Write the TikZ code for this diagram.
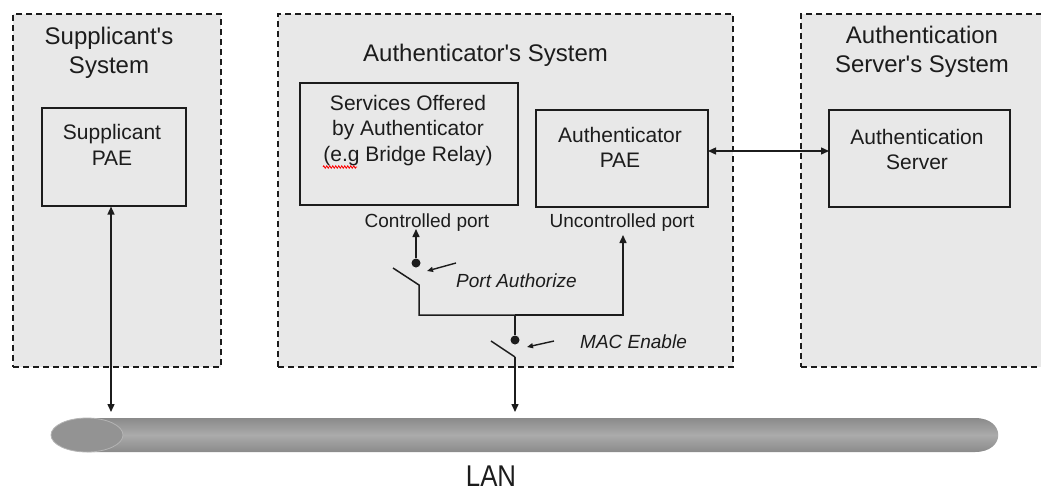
\documentclass[tikz,border=0pt]{standalone}
\usepackage{fontspec}
\newfontfamily\uifont{Liberation Sans}
\newfontfamily\lanfont{Liberation Sans}[FakeStretch=0.86]
\usetikzlibrary{arrows.meta,decorations.pathmorphing}

\definecolor{sysfill}{HTML}{E8E8E8}
\definecolor{ink}{HTML}{1C1C1C}
\definecolor{lanedge}{HTML}{8A8A8A}
\definecolor{lanmid}{HTML}{ABABAB}
\definecolor{lancap}{HTML}{939393}
\definecolor{lanrim}{HTML}{B4B4B4}

\begin{document}
\begin{tikzpicture}[x=1pt,y=-1pt,
  system/.style={draw=ink, fill=sysfill, line width=1.3pt,
    dash pattern=on 6pt off 4pt, inner sep=0pt},
  sysTitle/.style={font=\uifont\fontsize{24}{29}\selectfont, text=ink, align=center, inner sep=0pt},
  unitbox/.style={draw=ink, line width=1.1pt, fill=sysfill, inner sep=0pt},
  unittext/.style={font=\uifont\fontsize{21}{25.5}\selectfont, text=ink, align=center, inner sep=0pt},
  portlabel/.style={font=\uifont\fontsize{19}{22}\selectfont, text=ink, inner sep=0pt},
  ctrllabel/.style={font=\uifont\fontsize{19}{22}\selectfont\itshape, text=ink, inner sep=0pt},
  conn/.style={draw=ink, line width=1.5pt, -{Triangle[length=8pt,width=7pt]}},
  biconn/.style={draw=ink, line width=1.4pt, {Triangle[length=8pt,width=7pt]}-{Triangle[length=8pt,width=7pt]}},
  wire/.style={draw=ink, line width=1.5pt},
  pointer/.style={draw=ink, line width=1.4pt, -{Triangle[length=6pt,width=5pt]}},
  contact/.style={circle, fill=ink, inner sep=0pt, minimum size=9pt}
]
\useasboundingbox (0,0) rectangle (1041,493);
\clip (0,0) rectangle (1041,493);

% system enclosures
\node[system, minimum width=208pt, minimum height=353pt] (supsys) at (117,190.5) {};
\node[system, minimum width=455pt, minimum height=353pt] (authsys) at (505.5,190.5) {};
\node[system, minimum width=259pt, minimum height=353pt] (servsys) at (930.5,190.5) {};

\node[sysTitle] (supsysT) at (109,52.5) {Supplicant's\\System};
\node[sysTitle, anchor=west] (authsysT) at (363,55) {Authenticator's System};
\node[sysTitle] (servsysT) at (922,51.5) {Authentication\\Server's System};

% functional units
\node[unitbox, minimum width=144pt, minimum height=98pt] (spae) at (114,157) {};
\node[unittext] (spaeT) at (112,145) {Supplicant\\PAE};

\node[unitbox, minimum width=218pt, minimum height=122pt] (svc) at (409,144) {};
\node[unittext] (svcT) at (408,130.5) {Services Offered\\by Authenticator\\(e.g Bridge Relay)};
\draw[red, line width=0.8pt, decorate,
  decoration={zigzag, amplitude=1.2pt, segment length=3pt}] (323,167) -- (357,167);

\node[unitbox, minimum width=172pt, minimum height=97pt] (apae) at (622,158.5) {};
\node[unittext] (apaeT) at (620,147.5) {Authenticator\\PAE};

\node[unitbox, minimum width=181pt, minimum height=97pt] (aserv) at (919.5,158.5) {};
\node[unittext] (aservT) at (917,149.5) {Authentication\\Server};

% port labels
\node[portlabel] (cport) at (427,223) {Controlled port};
\node[portlabel] (uport) at (622,223) {Uncontrolled port};
\node[ctrllabel, anchor=west] (authz) at (456,281) {Port Authorize};
\node[ctrllabel, anchor=west] (macen) at (580,342) {MAC Enable};

% LAN cable
\shade[top color=lanedge, bottom color=lanedge, middle color=lanmid]
  (87,418) -- (975,418) .. controls (1006,418) and (1006,452) .. (975,452)
  -- (87,452) -- cycle;
\filldraw[fill=lancap, draw=lanrim, line width=0.8pt] (87,435) ellipse [x radius=36, y radius=17];
\node[font=\lanfont\fontsize{30}{34}\selectfont, text=ink, inner sep=0pt, anchor=base] (lan) at (491,486) {LAN};

\coordinate (lanS) at (111,412);
\coordinate (lanA) at (515,412);

% supplicant to LAN
\draw[biconn] (lanS) -- (lanS |- spae.south);

% authenticator PAE to authentication server
\coordinate (apaeE) at (708,151);
\coordinate (aservW) at (829,151);
\draw[biconn] (apaeE) -- (aservW);

% port authorize switch
\node[contact] (pa) at (416,263) {};
\coordinate (cportIn) at (416,229);
\draw[conn] (pa) -- (cportIn);
\coordinate (paBlade) at (393,268);
\coordinate (paHinge) at (419,285);
\coordinate (paJoin) at (419,315);
\coordinate (bus) at (515,315);
\coordinate (uportIn) at (623,235);
\draw[wire] (paBlade) -- (paHinge) -- (paJoin) -- (bus);
\draw[conn] (bus) -- (bus -| uportIn) -- (uportIn);
\coordinate (paPtr) at (456,263);
\coordinate (paPtrTip) at (427,271);
\draw[pointer] (paPtr) -- (paPtrTip);

% MAC enable switch
\node[contact] (mac) at (515,340) {};
\draw[wire] (bus) -- (mac);
\coordinate (macBlade) at (491,341);
\coordinate (macHinge) at (515,357);
\draw[wire] (macBlade) -- (macHinge);
\draw[conn] (macHinge) -- (lanA);
\coordinate (macPtr) at (554,341);
\coordinate (macPtrTip) at (527,347);
\draw[pointer] (macPtr) -- (macPtrTip);
\end{tikzpicture}
\end{document}
